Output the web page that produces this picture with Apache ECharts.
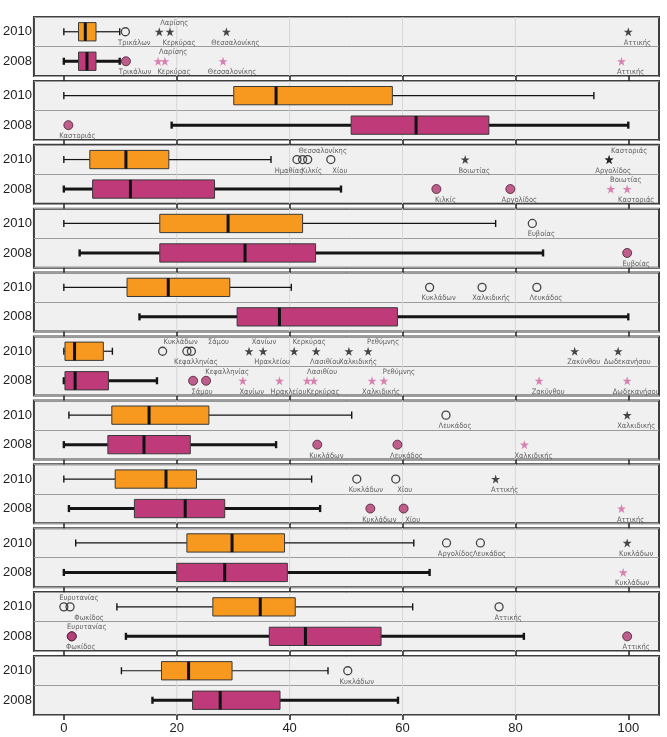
<!DOCTYPE html>
<html><head><meta charset="utf-8">
<script src="https://cdn.jsdelivr.net/npm/echarts@6/dist/echarts.min.js"></script>
<style>html,body{margin:0;padding:0;background:#fff}#c{width:667px;height:737px}</style>
</head><body><div id="c"></div>
<script>
const years = ['2010', '2008'];
const xTicks = [0, 20, 40, 60, 80, 100];
const gridValues = [20, 40, 60, 80];
// [lower whisker, Q1, median, Q3, upper whisker]
const box2010 = [
  [0, 2.6, 3.8, 5.7, 9.9],
  [0, 30.1, 37.6, 58.2, 93.9],
  [0, 4.6, 11.0, 18.6, 36.7],
  [0, 17.0, 29.1, 42.3, 76.5],
  [0, 11.2, 18.5, 29.4, 40.3],
  [0, 0.2, 1.9, 7.0, 8.6],
  [0.9, 8.5, 15.1, 25.7, 51.0],
  [0, 9.1, 18.1, 23.5, 43.9],
  [2.1, 21.8, 29.8, 39.1, 62.0],
  [9.4, 26.4, 34.8, 41.0, 61.8],
  [10.2, 17.3, 22.1, 29.8, 46.8]
];
const box2008 = [
  [0, 2.6, 4.1, 5.7, 9.9],
  [19.1, 50.9, 62.4, 75.3, 100],
  [0, 5.1, 11.8, 26.7, 49.1],
  [2.8, 17.0, 32.1, 44.6, 84.9],
  [13.4, 30.7, 38.2, 59.1, 100],
  [0, 0.2, 2.0, 7.9, 16.5],
  [0, 7.8, 14.2, 22.4, 37.6],
  [0.9, 12.5, 21.5, 28.5, 45.4],
  [0, 20.0, 28.5, 39.6, 64.8],
  [11.0, 36.4, 42.8, 56.2, 81.5],
  [15.7, 22.8, 27.7, 38.3, 59.2]
];
const outliers2010 = [
  [[10.9, 'Τρικάλων']],
  [],
  [[41.3, 'Ημαθίας'], [42.3, 'Κιλκίς'], [43.2, 'Θεσσαλονίκης'], [47.3, 'Χίου']],
  [[83.0, 'Ευβοίας']],
  [[64.8, 'Κυκλάδων'], [74.1, 'Χαλκιδικής'], [83.8, 'Λευκάδος']],
  [[17.5, 'Κυκλάδων'], [21.8, 'Κεφαλληνίας'], [22.6, 'Σάμου']],
  [[67.7, 'Λευκάδος']],
  [[51.9, 'Κυκλάδων'], [58.8, 'Χίου']],
  [[67.8, 'Αργολίδος'], [73.8, 'Λευκάδος']],
  [[0, 'Ευρυτανίας'], [1.1, 'Φωκίδος'], [77.1, 'Αττικής']],
  [[50.3, 'Κυκλάδων']]
];
const extremes2010 = [
  [[16.9, 'Λαρίσης'], [18.8, 'Κερκύρας'], [28.8, 'Θεσσαλονίκης'], [100, 'Αττικής']],
  [],
  [[71.1, 'Βοιωτίας'], [96.6, 'Αργολίδος'], [96.6, 'Καστοριάς']],
  [],
  [],
  [[32.8, 'Χανίων'], [35.3, 'Ηρακλείου'], [40.8, 'Κερκύρας'], [44.7, 'Λασιθίου'], [50.5, 'Χαλκιδικής'], [53.9, 'Ρεθύμνης'], [90.5, 'Ζακύνθου'], [98.2, 'Δωδεκανήσου']],
  [[99.8, 'Χαλκιδικής']],
  [[76.5, 'Αττικής']],
  [[99.8, 'Κυκλάδων']],
  [],
  []
];
const outliers2008 = [
  [[11.0, 'Τρικάλων']],
  [[0.8, 'Καστοριάς']],
  [[66.0, 'Κιλκίς'], [79.1, 'Αργολίδος']],
  [[99.8, 'Ευβοίας']],
  [],
  [[22.9, 'Σάμου'], [25.2, 'Κεφαλληνίας']],
  [[44.9, 'Κυκλάδων'], [59.1, 'Λευκάδος']],
  [[54.3, 'Κυκλάδων'], [60.2, 'Χίου']],
  [],
  [[1.4, 'Ευρυτανίας'], [1.4, 'Φωκίδος'], [99.8, 'Αττικής']],
  []
];
const extremes2008 = [
  [[16.7, 'Λαρίσης'], [17.9, 'Κερκύρας'], [28.2, 'Θεσσαλονίκης'], [98.8, 'Αττικής']],
  [],
  [[96.9, 'Βοιωτίας'], [99.8, 'Καστοριάς']],
  [],
  [],
  [[31.7, 'Χανίων'], [38.2, 'Ηρακλείου'], [43.1, 'Λασιθίου'], [44.3, 'Κερκύρας'], [54.6, 'Χαλκιδικής'], [56.7, 'Ρεθύμνης'], [84.2, 'Ζακύνθου'], [99.8, 'Δωδεκανήσου']],
  [[81.6, 'Χαλκιδικής']],
  [[98.8, 'Αττικής']],
  [[99.1, 'Κυκλάδων']],
  [],
  []
];

// label placement (style), kept apart from the data
const above2010 = ['0|Λαρίσης', '2|Θεσσαλονίκης', '2|Καστοριάς', '5|Κυκλάδων', '5|Σάμου', '5|Χανίων', '5|Κερκύρας', '5|Ρεθύμνης', '9|Ευρυτανίας'];
const above2008 = ['0|Λαρίσης', '2|Βοιωτίας', '5|Κεφαλληνίας', '5|Λασιθίου', '5|Ρεθύμνης', '9|Ευρυτανίας'];
const dxOverride = {'2010|2|Ημαθίας': -8, '2010|5|Σάμου': 27, '2010|5|Κυκλάδων': 18,
  '2010|2|Αργολίδος': 4, '2010|2|Καστοριάς': 20, '2008|5|Κεφαλληνίας': 21, '2010|9|Φωκίδος': 19};

const STAR = 'path://M50,2 L61,36 L97,36 L68,57 L79,92 L50,71 L21,92 L32,57 L3,36 L39,36 Z';
const ORANGE = '#F7981F', MAGENTA = '#BE3A79';
const FONT = 'Liberation Sans';

const N = box2010.length;
const TOP0 = 17, PITCH = 63.9, PH = 59;
const XMIN = -5.3, XMAX = 105.44;

function boxRenderer(fill, thick) {
  return function (params, api) {
    const r = api.value(0);
    const lo = api.coord([api.value(1), r]);
    const q1 = api.coord([api.value(2), r]);
    const md = api.coord([api.value(3), r]);
    const q3 = api.coord([api.value(4), r]);
    const hi = api.coord([api.value(5), r]);
    const band = api.size([0, 1])[1];
    const bh = band * 0.62, ch = band * 0.12;
    const cy = lo[1];
    const lw = thick ? 3 : 1.2;
    const capW = thick ? 2.4 : 1.4;
    const st = {stroke: '#151515', lineWidth: lw};
    const cs = {stroke: '#151515', lineWidth: capW};
    return {type: 'group', children: [
      {type: 'line', shape: {x1: lo[0], y1: cy, x2: q1[0], y2: cy}, style: st},
      {type: 'line', shape: {x1: q3[0], y1: cy, x2: hi[0], y2: cy}, style: st},
      {type: 'line', shape: {x1: lo[0], y1: cy - ch, x2: lo[0], y2: cy + ch}, style: cs},
      {type: 'line', shape: {x1: hi[0], y1: cy - ch, x2: hi[0], y2: cy + ch}, style: cs},
      {type: 'rect', shape: {x: q1[0], y: cy - bh / 2, width: q3[0] - q1[0], height: bh},
        style: {fill: fill, stroke: '#3a3a3a', lineWidth: 1}},
      {type: 'line', shape: {x1: md[0], y1: cy - bh / 2, x2: md[0], y2: cy + bh / 2},
        style: {stroke: '#111', lineWidth: 3}}
    ]};
  };
}

function gridLineRenderer(params, api) {
  const cs = params.coordSys;
  const p = api.coord([api.value(0), 0]);
  return {type: 'line', shape: {x1: p[0], y1: cs.y, x2: p[0], y2: cs.y + cs.height},
    style: {stroke: '#d6d6d6', lineWidth: 1}};
}

function pointData(list, row, year, panel, aboveList) {
  return list.map(function (d) {
    const key = panel + '|' + d[1];
    const above = aboveList.indexOf(key) >= 0;
    let dx = above ? 15 : 9;
    if (dxOverride[year + '|' + key] !== undefined) dx = dxOverride[year + '|' + key];
    return {
      value: [d[0], row],
      name: d[1],
      label: {offset: [dx, above ? -9 : 11]}
    };
  });
}

const grids = [], xAxes = [], yAxes = [], series = [];
for (let i = 0; i < N; i++) {
  grids.push({left: 32, right: 8, top: TOP0 + i * PITCH, height: PH, show: true,
    backgroundColor: '#f0f0f0', borderColor: '#3e3e3e', borderWidth: 2});
  const last = i === N - 1;
  xAxes.push({type: 'value', gridIndex: i, min: XMIN, max: XMAX,
    axisLine: {show: false},
    axisTick: {show: true, customValues: xTicks, length: 5, lineStyle: {color: '#222', width: 1.5}},
    axisLabel: {show: last, customValues: xTicks, fontSize: 13, color: '#222', fontFamily: FONT, margin: 7},
    splitLine: {show: false}});
  yAxes.push({type: 'category', gridIndex: i, data: years, inverse: true,
    axisLine: {show: false}, axisTick: {show: false},
    axisLabel: {fontSize: 13, color: '#222', fontFamily: FONT, margin: 2},
    splitLine: {show: true, lineStyle: {color: '#9c9c9c', width: 1}}});

  series.push({type: 'custom', xAxisIndex: i, yAxisIndex: i, z: 1, silent: true,
    renderItem: gridLineRenderer, data: gridValues.map(v => [v])});
  series.push({type: 'custom', xAxisIndex: i, yAxisIndex: i, z: 3, silent: true,
    renderItem: boxRenderer(ORANGE, false), encode: {x: [1, 2, 3, 4, 5], y: 0},
    data: [[0].concat(box2010[i])]});
  series.push({type: 'custom', xAxisIndex: i, yAxisIndex: i, z: 3, silent: true,
    renderItem: boxRenderer(MAGENTA, true), encode: {x: [1, 2, 3, 4, 5], y: 0},
    data: [[1].concat(box2008[i])]});

  const lbl = {show: true, position: 'inside', formatter: '{b}', fontSize: 7.5, color: '#3a3a3a', fontFamily: 'DejaVu Sans Condensed, Liberation Sans Narrow, Liberation Sans'};
  series.push({type: 'scatter', xAxisIndex: i, yAxisIndex: i, z: 4, silent: true,
    symbol: 'circle', symbolSize: 8,
    itemStyle: {color: 'rgba(255,255,255,0)', borderColor: '#1a1a1a', borderWidth: 1.3},
    label: lbl, data: pointData(outliers2010[i], 0, '2010', i, above2010)});
  series.push({type: 'scatter', xAxisIndex: i, yAxisIndex: i, z: 4, silent: true,
    symbol: STAR, symbolSize: 9,
    itemStyle: {color: '#1a1a1a'},
    label: lbl, data: pointData(extremes2010[i], 0, '2010', i, above2010)});
  series.push({type: 'scatter', xAxisIndex: i, yAxisIndex: i, z: 4, silent: true,
    symbol: 'circle', symbolSize: 9,
    itemStyle: {color: '#B23A72', borderColor: '#4a1e33', borderWidth: 1},
    label: lbl, data: pointData(outliers2008[i], 1, '2008', i, above2008)});
  series.push({type: 'scatter', xAxisIndex: i, yAxisIndex: i, z: 4, silent: true,
    symbol: STAR, symbolSize: 9,
    itemStyle: {color: '#D065A0'},
    label: lbl, data: pointData(extremes2008[i], 1, '2008', i, above2008)});
}

const chart = echarts.init(document.getElementById('c'), null, {renderer: 'canvas'});
chart.setOption({animation: false, backgroundColor: '#ffffff',
  grid: grids, xAxis: xAxes, yAxis: yAxes, series: series});
</script>
</body></html>
